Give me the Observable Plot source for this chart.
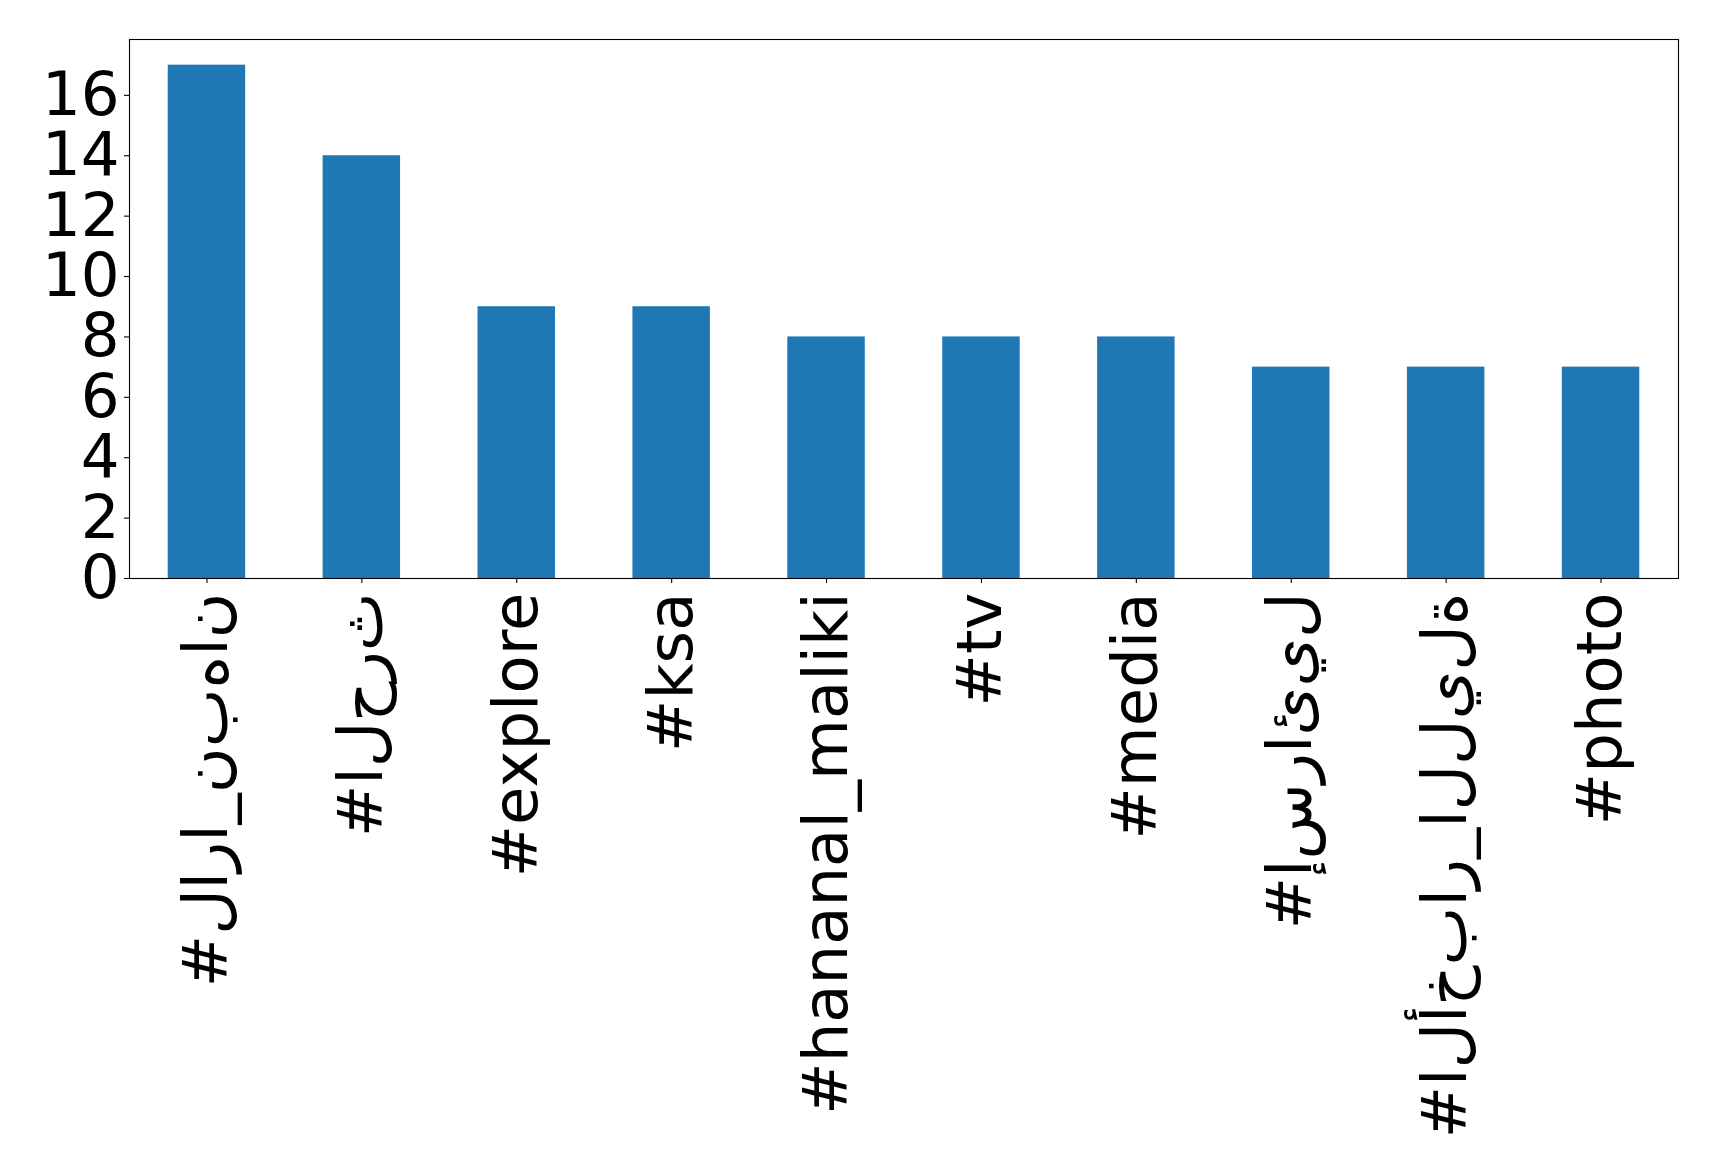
<!DOCTYPE html>
<html>
<head>
<meta charset="utf-8">
<script src="https://cdn.jsdelivr.net/npm/d3@7"></script>
<script src="https://cdn.jsdelivr.net/npm/@observablehq/plot@0.6"></script>
<style>
  html, body { margin: 0; padding: 0; background: #fff; }
  #chart svg { display: block; }
  #chart svg text {
    direction: ltr;
    unicode-bidi: bidi-override;
    font-feature-settings: "init" 0, "medi" 0, "fina" 0, "rlig" 0, "liga" 0, "calt" 0;
  }
</style>
</head>
<body>
<div id="chart"></div>
<script>
const hashtags = ["#لارا_نبهان", "#الحرث", "#explore", "#ksa", "#hananal_maliki", "#tv", "#media", "#إسرائيل", "#الأخبار_الليلة", "#photo"];
const counts = [17, 14, 9, 9, 8, 8, 8, 7, 7, 7];
const yTicks = [0, 2, 4, 6, 8, 10, 12, 14, 16];

const data = hashtags.map((tag, i) => ({tag, count: counts[i]}));

const chart = Plot.plot({
  width: 1719,
  height: 1174,
  marginLeft: 129,
  marginRight: 41,
  marginTop: 39,
  marginBottom: 596,
  style: {fontFamily: "DejaVu Sans", fontSize: "62px", color: "black", background: "white"},
  x: {domain: hashtags, paddingInner: 0.5, paddingOuter: 0.25, round: false, label: null},
  y: {domain: [0, 17.85], label: null},
  marks: [
    Plot.barY(data, {x: "tag", y: "count", fill: "#1f77b4"}),
    Plot.axisY({ticks: yTicks, tickSize: 5, tickPadding: 5, fontSize: 61, label: null, stroke: "black", strokeWidth: 1.1}),
    Plot.axisX({tickSize: 5, tickPadding: 9, tickRotate: -90, fontSize: 62.5, label: null, stroke: "black", strokeWidth: 1.1}),
    Plot.frame({stroke: "black", strokeWidth: 1.1})
  ]
});
document.getElementById("chart").appendChild(chart);
</script>
</body>
</html>
